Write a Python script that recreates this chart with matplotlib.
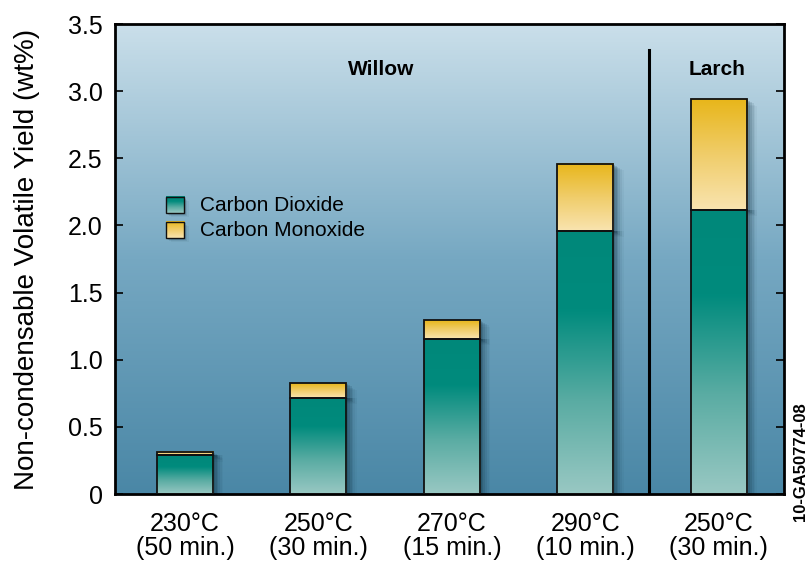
import numpy as np
import matplotlib
matplotlib.use('Agg')
import matplotlib.pyplot as plt
from matplotlib.colors import LinearSegmentedColormap

# values (wt%)
conditions = ['230°C\n(50 min.)', '250°C\n(30 min.)', '270°C\n(15 min.)',
              '290°C\n(10 min.)', '250°C\n(30 min.)']
co2 = [0.29, 0.715, 1.155, 1.96, 2.115]
co = [0.025, 0.11, 0.14, 0.50, 0.825]
yticks = [0, 0.5, 1.0, 1.5, 2.0, 2.5, 3.0, 3.5]
ytick_labels = ['0', '0.5', '1.0', '1.5', '2.0', '2.5', '3.0', '3.5']

plt.rcParams['font.family'] = ['Liberation Sans', 'DejaVu Sans']

bg_cmap = LinearSegmentedColormap.from_list('bg', ['#4a87a6', '#76a8c2', '#cadfea'])
co2_cmap = LinearSegmentedColormap.from_list(
    'co2', [(0, '#99c8c3'), (0.35, '#5aaca3'), (0.7, '#008b7d'), (1, '#00887a')])
co_cmap = LinearSegmentedColormap.from_list('co', ['#f9e4b0', '#f0cd6a', '#e8b61a'])

fig = plt.figure(figsize=(8.09, 5.65), dpi=100)
ax = fig.add_axes([115 / 809, 1 - 494 / 565, (784 - 115) / 809, (494 - 24) / 565])

grad = np.linspace(0, 1, 256).reshape(-1, 1)
ax.imshow(grad, cmap=bg_cmap, origin='lower', aspect='auto',
          extent=[0, 1, 0, 1], transform=ax.transAxes, zorder=0)

x = np.arange(len(conditions))
width = 0.42


def grad_bar(xc, bottom, height, cmap):
    # soft shadow to the right of the bar
    for k, a in enumerate([0.18, 0.15, 0.12, 0.09, 0.06, 0.04]):
        off = 0.013 * (k + 1)
        ax.bar(xc + off, height, width, bottom=bottom - 0.008 * (k + 1) if bottom > 0 else bottom,
               color='#0a2a3a', alpha=a, linewidth=0, zorder=1)
    ax.imshow(grad, cmap=cmap, origin='lower', aspect='auto',
              extent=[xc - width / 2, xc + width / 2, bottom, bottom + height], zorder=2)
    ax.bar(xc, height, width, bottom=bottom, facecolor='none',
           edgecolor='#111111', linewidth=1.3, zorder=3)


for i in range(len(conditions)):
    grad_bar(x[i], 0, co2[i], co2_cmap)
    grad_bar(x[i], co2[i], co[i], co_cmap)

ax.set_xlim(-0.525, 4.49)
ax.set_ylim(0, 3.5)

# divider between willow and larch
ax.plot([3.48, 3.48], [0, 3.31], color='black', lw=2.2, zorder=4)
ax.text(1.47, 3.16, 'Willow', ha='center', va='center', fontsize=15, fontweight='bold')
ax.text(3.99, 3.16, 'Larch', ha='center', va='center', fontsize=15, fontweight='bold')

ax.set_yticks(yticks)
ax.set_yticklabels(ytick_labels, fontsize=18)
ax.set_xticks(x)
ax.set_xticklabels(conditions, fontsize=18, linespacing=1.0)
ax.tick_params(axis='y', direction='in', length=6, width=1.2, right=True, pad=9)
ax.tick_params(axis='x', length=0, pad=13)
for s in ax.spines.values():
    s.set_linewidth(2)

ax.set_ylabel('Non-condensable Volatile Yield (wt%)', fontsize=20, labelpad=20)

# legend drawn by hand: swatches with gradient
lx, lw_, lh = -0.143, 0.135, 0.12
for j, (cmap, name) in enumerate([(co2_cmap, 'Carbon Dioxide'), (co_cmap, 'Carbon Monoxide')]):
    yb = 2.09 - j * 0.185
    for k, a in enumerate([0.14, 0.09, 0.05]):
        ax.bar(lx + 0.012 * (k + 1), lh, lw_, bottom=yb - 0.01 * (k + 1), align='edge',
               color='#0a2a3a', alpha=a, linewidth=0, zorder=1)
    ax.imshow(grad, cmap=cmap, origin='lower', aspect='auto',
              extent=[lx, lx + lw_, yb, yb + lh], zorder=2)
    ax.bar(lx, lh, lw_, bottom=yb, align='edge', facecolor='none',
           edgecolor='#111111', linewidth=1.0, zorder=3)
    ax.text(0.11, yb + lh / 2, name, va='center', ha='left', fontsize=15)

fig.text(801 / 809, 1 - 462 / 565, '10-GA50774-08', rotation=90, ha='center', va='center',
         fontsize=12, fontweight='bold')

fig.savefig('out.png', dpi=100)
